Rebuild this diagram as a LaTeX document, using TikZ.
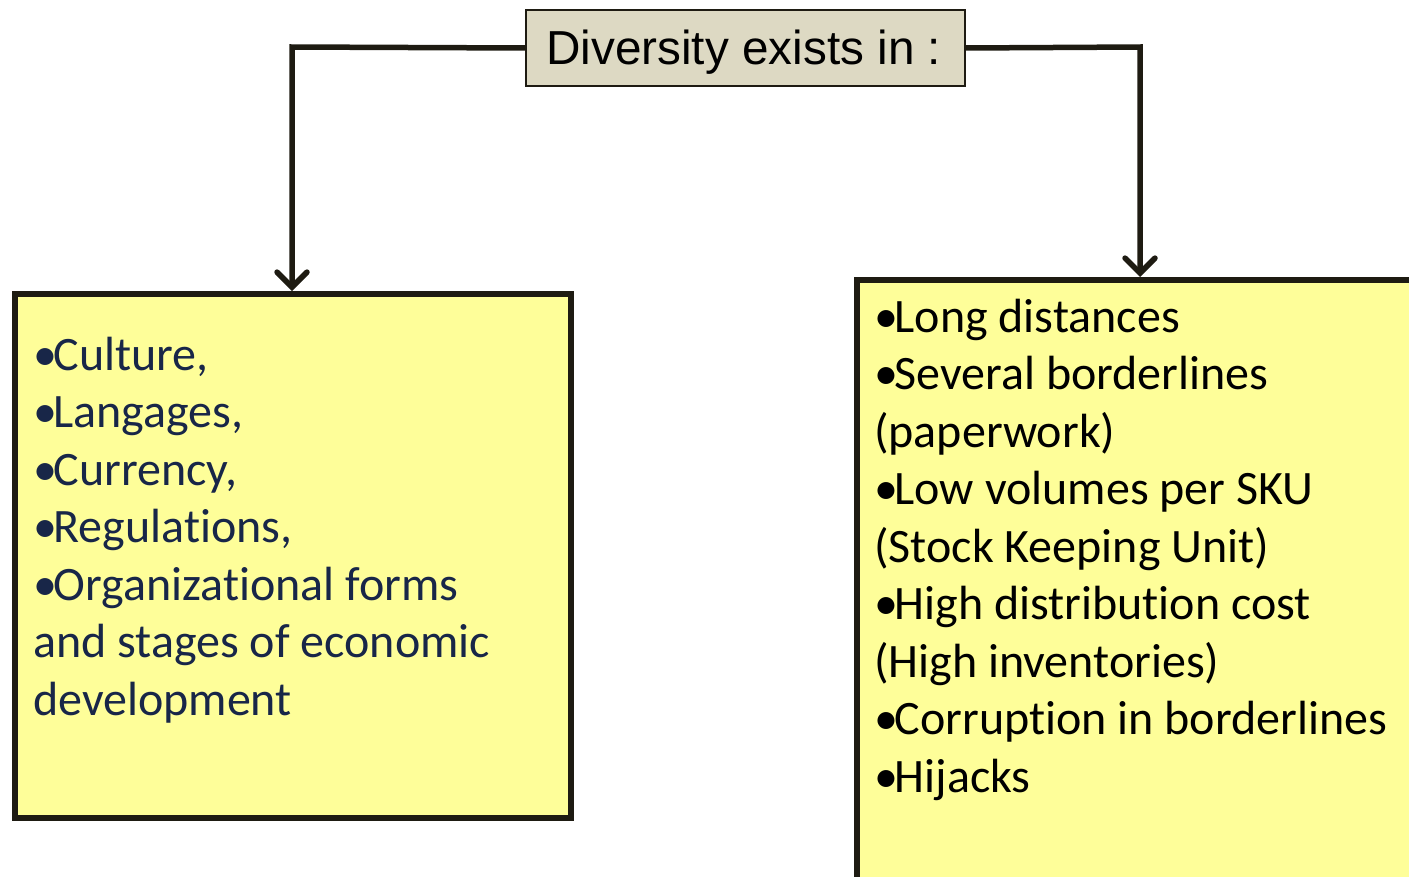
\documentclass[tikz,border=0pt]{standalone}
\usepackage{fontspec}
\setmainfont{Carlito}[RawFeature={-liga;-clig;-dlig;-calt}]
\newfontfamily\arialfont{Liberation Sans}
\usetikzlibrary{arrows.meta}
\definecolor{boxfill}{RGB}{254,254,153}
\definecolor{topfill}{RGB}{221,217,195}
\definecolor{edge}{RGB}{30,27,18}
\definecolor{navy}{RGB}{24,38,72}
\newcommand\bul{\textbullet\kern-3.5pt}
\tikzset{
  conn/.style={draw=edge, line width=5.5pt, -{Straight Barb[length=15pt,width=30pt,line cap=round]}},
  bigbox/.style={draw=edge, fill=boxfill, line width=6pt, outer sep=0pt, inner sep=0pt},
  topbox/.style={draw=edge, fill=topfill, line width=2pt, outer sep=0pt, minimum width=439pt, minimum height=76pt, inner sep=0pt},
  itemL/.style={anchor=base west, inner sep=0pt, text=navy, font=\fontsize{48}{57}\selectfont},
  itemR/.style={anchor=base west, inner sep=0pt, text=black, font=\fontsize{48}{57}\selectfont},
}
\begin{document}
\begin{tikzpicture}[x=1pt,y=-1pt]
\useasboundingbox (0,0) rectangle (1409,876);
\clip (0,0) rectangle (1409,876);
\node[topbox, anchor=north west] (top) at (526,10) {};
\node[anchor=base west, inner sep=0pt, font=\arialfont\fontsize{47.7}{54}\selectfont] (toptext) at (546,64) {Diversity exists in :};
\node[bigbox, anchor=north west, minimum width=556pt, minimum height=524pt] (left) at (15,294) {};
\node[bigbox, anchor=north west, minimum width=620pt, minimum height=640pt] (right) at (857,280) {};
\coordinate (lc) at (292,47);
\coordinate (rc) at (1140,47);
\draw[conn] (top.west) -- (lc) -- ([yshift=3pt]lc |- left.north);
\draw[conn] (top.east) -- (rc) -- ([yshift=3pt]rc |- right.north);
\foreach \t [count=\i] in {{\bul Culture,},{\bul Langages,},{\bul Currency,},{\bul Regulations,},{\bul Organizational forms},{and stages of economic},{development}}
  \node[itemL] (l\i) at (33,{370+57.5*(\i-1)}) {\t};
\foreach \t [count=\i] in {{\bul Long distances},{\bul Several borderlines},{(paperwork)},{\bul Low volumes per SKU},{(Stock Keeping Unit)},{\bul High distribution cost},{(High inventories)},{\bul Corruption in borderlines},{\bul Hijacks}}
  \node[itemR] (r\i) at (874,{332+57.5*(\i-1)}) {\t};
\end{tikzpicture}
\end{document}
